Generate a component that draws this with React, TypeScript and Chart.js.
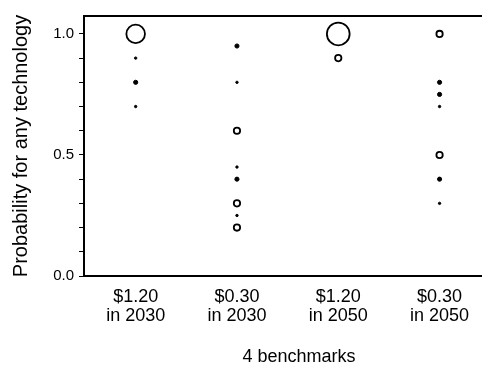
import React, { useEffect, useRef } from "react";
import { Chart, registerables } from "chart.js";

Chart.register(...registerables);

const categories: string[][] = [
  ["$1.20", "in 2030"],
  ["$0.30", "in 2030"],
  ["$1.20", "in 2050"],
  ["$0.30", "in 2050"],
];

// probability values per benchmark and how many results share that value
const bench1Values = [1.0, 0.9, 0.8, 0.7];
const bench1Counts = [60, 1, 3, 1];
const bench2Values = [0.95, 0.8, 0.6, 0.45, 0.4, 0.3, 0.25, 0.2];
const bench2Counts = [3, 1, 7, 1, 3, 7, 1, 7];
const bench3Values = [1.0, 0.9];
const bench3Counts = [90, 7];
const bench4Values = [1.0, 0.8, 0.75, 0.7, 0.5, 0.4, 0.3];
const bench4Counts = [7, 3, 3, 1, 7, 3, 1];

const yTickLabels = ["0.0", "0.5", "1.0"];

const FONT = "'Liberation Sans', Arial, Helvetica, sans-serif";

const allValues = [bench1Values, bench2Values, bench3Values, bench4Values];
const allCounts = [bench1Counts, bench2Counts, bench3Counts, bench4Counts];

const points: { x: number; y: number; c: number }[] = [];
allValues.forEach((vals, i) => {
  vals.forEach((v, j) => points.push({ x: i + 1, y: v, c: allCounts[i][j] }));
});

const radiusOf = (c: number) => 1.2 * Math.sqrt(c);

const topBorder = {
  id: "topBorder",
  afterDraw(chart: any) {
    const { ctx, chartArea } = chart;
    ctx.save();
    ctx.strokeStyle = "#000";
    ctx.lineWidth = 2;
    ctx.beginPath();
    ctx.moveTo(chartArea.left - 1, chartArea.top);
    ctx.lineTo(chartArea.right + 2, chartArea.top);
    ctx.stroke();
    ctx.restore();
  },
};

const CANVAS_W = 530;

export default function App() {
  const ref = useRef<HTMLCanvasElement | null>(null);
  useEffect(() => {
    if (!ref.current) return;
    const chart = new Chart(ref.current, {
      type: "scatter",
      data: {
        datasets: [
          {
            data: points as any,
            pointStyle: "circle",
            pointRadius: (ctx: any) => radiusOf((ctx.raw as any).c),
            pointHoverRadius: (ctx: any) => radiusOf((ctx.raw as any).c),
            pointBackgroundColor: (ctx: any) =>
              radiusOf((ctx.raw as any).c) >= 3 ? "#fff" : "#000",
            pointBorderColor: "#000",
            pointBorderWidth: (ctx: any) =>
              radiusOf((ctx.raw as any).c) >= 3 ? 1.8 : 1,
          },
        ],
      },
      options: {
        responsive: false,
        animation: false,
        layout: { padding: { left: 0, right: CANVAS_W - 514, top: 16, bottom: 0 } },
        plugins: {
          legend: { display: false },
          tooltip: { enabled: false },
        },
        scales: {
          x: {
            type: "linear",
            min: 0.49,
            max: 0.49 + (514 - 84) / 101.3,
            afterFit: (s: any) => {
              s.height = 98;
            },
            afterBuildTicks: (s: any) => {
              s.ticks = categories.map((_, i) => ({ value: i + 1 }));
            },
            ticks: {
              autoSkip: false,
              maxRotation: 0,
              padding: 11.5,
              color: "#000",
              font: { family: FONT, size: 18, lineHeight: 1.05 },
              callback: (v: any) => categories[Math.round(Number(v)) - 1] ?? "",
            },
            grid: {
              display: true,
              drawOnChartArea: false,
              drawTicks: false,
              color: "#000",
            },
            border: { display: true, color: "#000", width: 2 },
            title: {
              display: true,
              text: "4 benchmarks",
              color: "#000",
              font: { family: FONT, size: 18 },
              padding: { top: 0, bottom: 6 },
            },
          },
          y: {
            type: "linear",
            min: 0,
            max: 1.074,
            afterFit: (s: any) => {
              s.width = 84;
            },
            ticks: {
              stepSize: 0.1,
              includeBounds: false,
              padding: 5,
              color: "#000",
              font: { family: FONT, size: 15 },
              callback: (v: any) => {
                const n = Number(v);
                const k = Math.round(n * 2);
                if (Math.abs(n * 2 - k) < 1e-6 && k >= 0 && k <= 2) return yTickLabels[k];
                return "";
              },
            },
            grid: {
              display: true,
              drawOnChartArea: false,
              drawTicks: true,
              tickLength: 5,
              color: "#000",
              lineWidth: 1,
            },
            border: { display: true, color: "#000", width: 2 },
            title: {
              display: true,
              text: "Probability for any technology",
              color: "#000",
              font: { family: FONT, size: 20 },
              padding: { top: 9, bottom: 0 },
            },
          },
        },
      },
      plugins: [topBorder],
    });
    return () => chart.destroy();
  }, []);
  return (
    <div
      style={{
        position: "fixed",
        left: 0,
        top: 0,
        width: 482,
        height: 374,
        overflow: "hidden",
        background: "#fff",
      }}
    >
      <canvas ref={ref} width={CANVAS_W} height={374} style={{ display: "block" }} />
    </div>
  );
}
